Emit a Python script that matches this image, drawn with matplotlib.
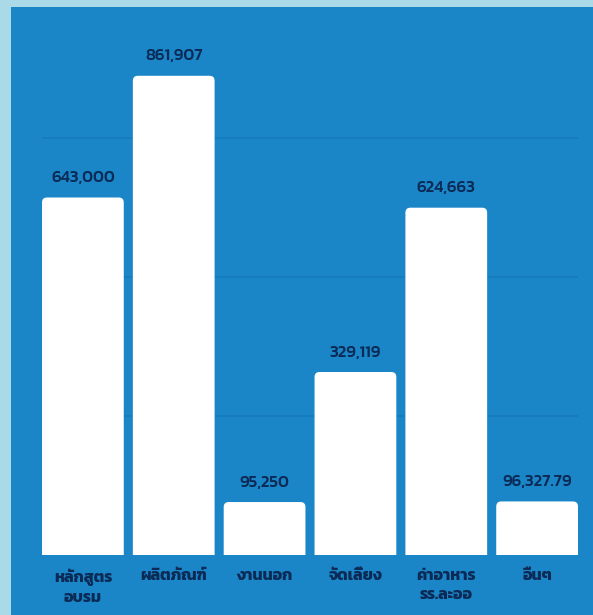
import matplotlib
matplotlib.use('Agg')
import matplotlib.pyplot as plt
from matplotlib import font_manager
from matplotlib.patches import FancyBboxPatch, Rectangle

categories = ['หลักสูตร\nอบรม', 'ผลิตภัณฑ์', 'งานนอก', 'จัดเลี้ยง', 'ค่าอาหาร\nรร.ละออ', 'อื่นๆ']
amounts = [643000, 861907, 95250, 329119, 624663, 96327.79]
grid_levels = [250000, 500000, 750000]

# pick a Thai-capable font, loopless style first
names = set(f.name for f in font_manager.fontManager.ttflist)
thai_font = 'DejaVu Sans'
for cand in ['Kanit', 'Prompt', 'Mitr', 'Athiti', 'Bai Jamjuree', 'Chakra Petch']:
    if cand in names:
        thai_font = cand
        break
plt.rcParams['font.family'] = [thai_font, 'DejaVu Sans']

panel = '#1a86c7'
border = '#aad9e8'
navy = '#0b2a55'

fig = plt.figure(figsize=(5.93, 6.15), dpi=100)
fig.patch.set_facecolor(border)
# blue panel sits behind the axes
fig.patches.append(Rectangle((11 / 593, 0), 1, 608 / 615, transform=fig.transFigure,
                             facecolor=panel, edgecolor='none', zorder=-1))

ax = fig.add_axes([42 / 593, 60 / 615, 536 / 593, 548 / 615])
ax.set_facecolor('none')
ax.set_xlim(-0.45, 5.45)
ax.set_ylim(0, 548 * 250000 / 139)

for g in grid_levels:
    ax.axhline(g, color='#177bbb', lw=1.2, zorder=1)

bars = ax.bar(range(len(amounts)), amounts, width=0.9, color='white', zorder=2)

# swap plain rectangles for rounded ones (bottom hidden under the axes edge)
x0, x1 = ax.get_xlim()
y0, y1 = ax.get_ylim()
bb = ax.get_window_extent()
aspect = ((y1 - y0) / bb.height) / ((x1 - x0) / bb.width)
r = 5 * (x1 - x0) / bb.width
for b in bars:
    b.set_visible(False)
    ax.add_patch(FancyBboxPatch((b.get_x(), -20000), b.get_width(), b.get_height() + 20000,
                                boxstyle='round,pad=0,rounding_size=%f' % r,
                                mutation_aspect=aspect, facecolor='white',
                                edgecolor='none', zorder=2))

for i, v in enumerate(amounts):
    txt = '{:,.0f}'.format(v) if v == int(v) else '{:,.2f}'.format(v)
    ax.annotate(txt, (i, v), xytext=(0, 14), textcoords='offset points',
                ha='center', va='center', fontsize=12, color=navy, fontweight='medium')

ax.set_xticks(range(len(categories)))
ax.set_xticklabels(categories, fontsize=11.5, color=navy, fontweight='bold', linespacing=1.45)
ax.tick_params(axis='x', length=0, pad=10)
ax.tick_params(axis='y', left=False, labelleft=False)
for s in ax.spines.values():
    s.set_visible(False)

fig.savefig('out.png', dpi=100, facecolor=fig.get_facecolor())
